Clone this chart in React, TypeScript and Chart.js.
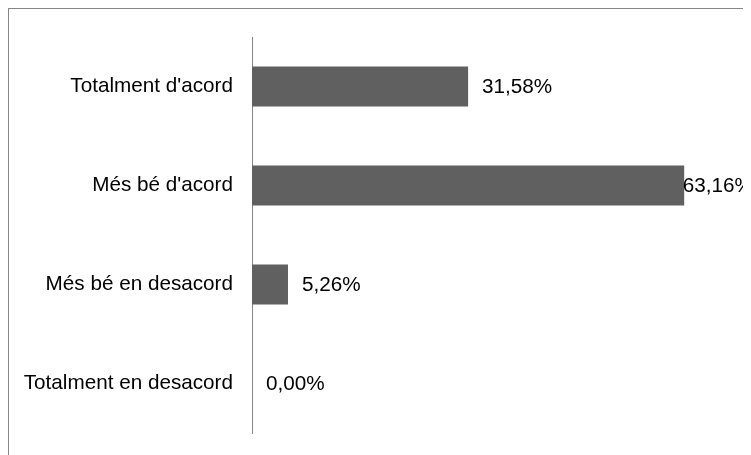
import React, { useEffect, useRef } from "react";
import { Chart, registerables } from "chart.js";

Chart.register(...registerables);

const categories = ["Totalment d'acord", "Més bé d'acord", "Més bé en desacord", "Totalment en desacord"];
const values = [31.58, 63.16, 5.26, 0.0];
const axisMin = 0;
const axisMax = 70;

const FONT = "'Liberation Sans', Arial, sans-serif";
const FONT_SIZE = 20.7;

const valueLabels = {
  id: "valueLabels",
  afterDatasetsDraw(chart: any) {
    const ctx = chart.ctx;
    const meta = chart.getDatasetMeta(0);
    ctx.save();
    ctx.font = `${FONT_SIZE}px ${FONT}`;
    ctx.fillStyle = "#000000";
    ctx.textBaseline = "middle";
    ctx.textAlign = "left";
    meta.data.forEach((el: any, i: number) => {
      const v = values[i];
      const text = v.toFixed(2).replace(".", ",") + "%";
      const w = ctx.measureText(text).width;
      const x = Math.min(el.x + 14, chart.width - w + 2);
      ctx.fillText(text, x, el.y + 1);
    });
    ctx.restore();
  },
};

export default function App() {
  const ref = useRef<HTMLCanvasElement>(null);
  useEffect(() => {
    if (!ref.current) return;
    const chart = new Chart(ref.current, {
      type: "bar",
      data: {
        labels: categories,
        datasets: [
          {
            data: values,
            backgroundColor: "#606060",
            borderWidth: 0,
            barPercentage: 0.404,
            categoryPercentage: 1,
          },
        ],
      },
      options: {
        indexAxis: "y",
        animation: false,
        responsive: false,
        devicePixelRatio: 1,
        layout: { padding: { top: 28, bottom: 22, left: 0, right: 20 } },
        plugins: {
          legend: { display: false },
          tooltip: { enabled: false },
          title: { display: false },
        },
        scales: {
          x: { display: false, min: axisMin, max: axisMax },
          y: {
            afterFit: (scale: any) => {
              scale.width = 243;
              scale.paddingTop = 0;
              scale.paddingBottom = 0;
            },
            grid: { display: false, drawTicks: false },
            border: { display: true, color: "#868686", width: 1 },
            ticks: {
              padding: 19,
              color: "#000000",
              font: { family: FONT, size: FONT_SIZE },
            },
          },
        },
      },
      plugins: [valueLabels],
    });
    return () => chart.destroy();
  }, []);
  return (
    <div
      style={{
        width: 743,
        height: 447,
        boxSizing: "border-box",
        borderTop: "1px solid #868686",
        borderLeft: "1px solid #868686",
        overflow: "hidden",
      }}
    >
      <canvas ref={ref} width={742} height={446} style={{ display: "block" }} />
    </div>
  );
}
